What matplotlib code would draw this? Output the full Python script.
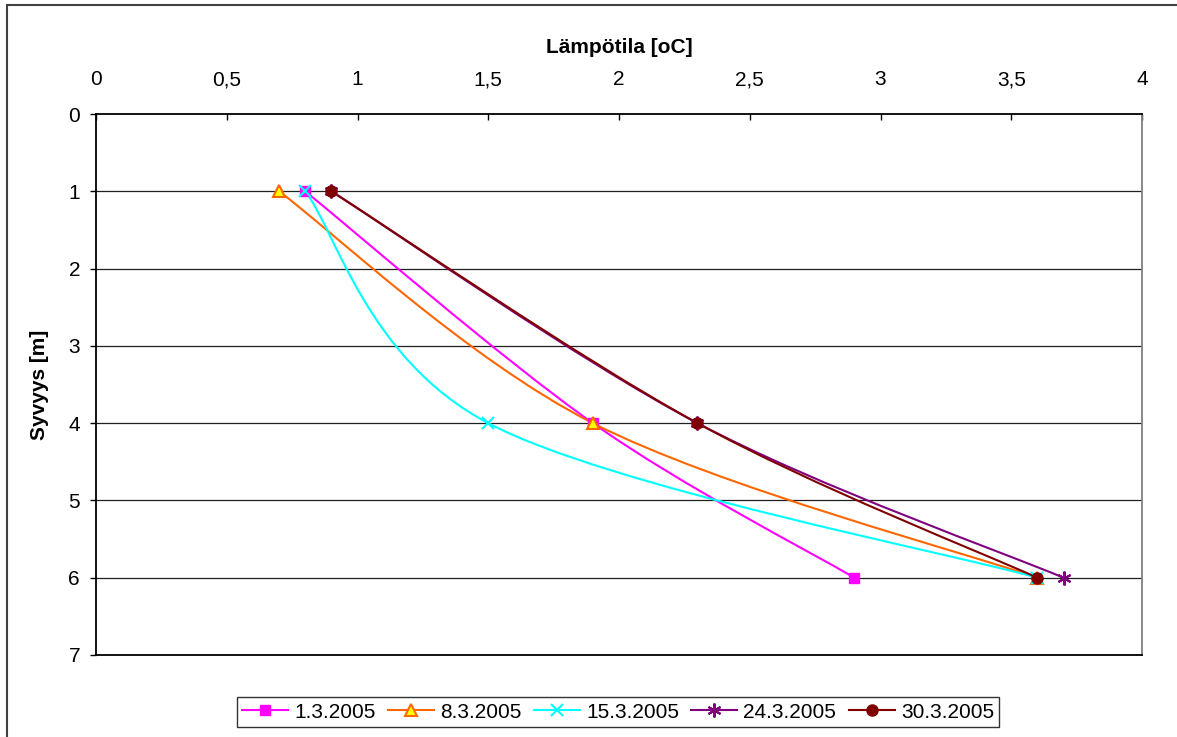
import numpy as np
import matplotlib
matplotlib.use('Agg')
import matplotlib.pyplot as plt
from matplotlib.path import Path
from matplotlib.patches import PathPatch, Rectangle
from matplotlib.lines import Line2D

plt.rcParams['font.family'] = ['Liberation Sans', 'DejaVu Sans']

# syvyydet (m) ja lämpötilat (oC)
syvyys = [1, 4, 6]
sarjat = ['1.3.2005', '8.3.2005', '15.3.2005', '24.3.2005', '30.3.2005']
t_0103 = [0.8, 1.9, 2.9]
t_0803 = [0.7, 1.9, 3.6]
t_1503 = [0.8, 1.5, 3.6]
t_2403 = [0.9, 2.3, 3.7]
t_3003 = [0.9, 2.3, 3.6]
x_ticks = [0, 0.5, 1, 1.5, 2, 2.5, 3, 3.5, 4]
x_labels = ['0', '0,5', '1', '1,5', '2', '2,5', '3', '3,5', '4']
y_ticks = [0, 1, 2, 3, 4, 5, 6, 7]

FS = 15

tyylit = [
    dict(color='#FF00FF', marker='s', mfc='#FF00FF', mec='#FF00FF', ms=7.5, mew=1),
    dict(color='#FF6600', marker='^', mfc='#FFFF00', mec='#FF6600', ms=9, mew=1.5),
    dict(color='#00FFFF', marker='x', mfc='none', mec='#00FFFF', ms=8, mew=1.5),
    dict(color='#800080', marker=(6, 2, 0), mfc='none', mec='#800080', ms=10, mew=1.5),
    dict(color='#800000', marker='o', mfc='#800000', mec='#800000', ms=8, mew=1),
]


def pehmea_polku(xs, ys):
    # Excel-tyylinen pehmennetty viiva (Catmull-Rom -> Bezier)
    p = np.column_stack([xs, ys]).astype(float)
    n = len(p)
    verts = [p[0]]
    codes = [Path.MOVETO]
    for i in range(n - 1):
        p0 = p[i - 1] if i > 0 else p[i]
        p1 = p[i]
        p2 = p[i + 1]
        p3 = p[i + 2] if i + 2 < n else p[i + 1]
        c1 = p1 + (p2 - p0) / 6.0
        c2 = p2 - (p3 - p1) / 6.0
        verts += [c1, c2, p2]
        codes += [Path.CURVE4] * 3
    return Path(verts, codes)


fig = plt.figure(figsize=(11.77, 7.37), dpi=100)
ax = fig.add_axes([96 / 1177, 1 - 655 / 737, (1142 - 96) / 1177, (655 - 114) / 737])

# ulkokehys
fig.patches.append(Rectangle((7 / 1177, -0.2), 1.2, 1.2 - 5 / 737,
                             transform=fig.transFigure, fill=False,
                             edgecolor='#404040', linewidth=1.5))

kahvat = []
for nimi, tt, st in zip(sarjat, [t_0103, t_0803, t_1503, t_2403, t_3003], tyylit):
    ax.add_patch(PathPatch(pehmea_polku(tt, syvyys), facecolor='none',
                           edgecolor=st['color'], linewidth=1.5, zorder=3))
    ax.plot(tt, syvyys, linestyle='none', marker=st['marker'], markerfacecolor=st['mfc'],
            markeredgecolor=st['mec'], markersize=st['ms'], markeredgewidth=st['mew'],
            zorder=4, clip_on=False)
    kahvat.append(Line2D([], [], color=st['color'], linewidth=1.5, marker=st['marker'],
                         markerfacecolor=st['mfc'], markeredgecolor=st['mec'],
                         markersize=st['ms'], markeredgewidth=st['mew'], label=nimi))

ax.set_xlim(0, 4)
ax.set_ylim(7, 0)
ax.set_xticks(x_ticks)
ax.set_xticklabels(x_labels)
ax.set_yticks(y_ticks)
ax.xaxis.tick_top()
ax.xaxis.set_label_position('top')
ax.tick_params(axis='x', direction='in', length=4, width=1, pad=18, labelsize=FS)
ax.tick_params(axis='y', direction='out', length=4.5, width=1, pad=7, labelsize=FS)

for y in y_ticks[1:-1]:
    ax.axhline(y, color='#202020', linewidth=0.9, zorder=1)

ax.spines['top'].set_linewidth(1.3)
ax.spines['left'].set_linewidth(1.3)
ax.spines['bottom'].set_linewidth(1.3)
ax.spines['right'].set_color('#808080')
ax.spines['right'].set_linewidth(1.3)

ax.set_xlabel('Lämpötila [oC]', fontsize=FS, fontweight='bold', labelpad=12)
ax.set_ylabel('Syvyys [m]', fontsize=FS, fontweight='bold', labelpad=14)

leg = fig.legend(handles=kahvat, loc='center', bbox_to_anchor=(618 / 1177, 1 - 712 / 737),
                 ncol=5, fontsize=FS, frameon=True, fancybox=False, handlelength=2.2,
                 handletextpad=0.3, columnspacing=0.6, borderpad=0.25, borderaxespad=0)
leg.get_frame().set_edgecolor('#000000')
leg.get_frame().set_linewidth(1)

fig.savefig('out.png', dpi=100)
